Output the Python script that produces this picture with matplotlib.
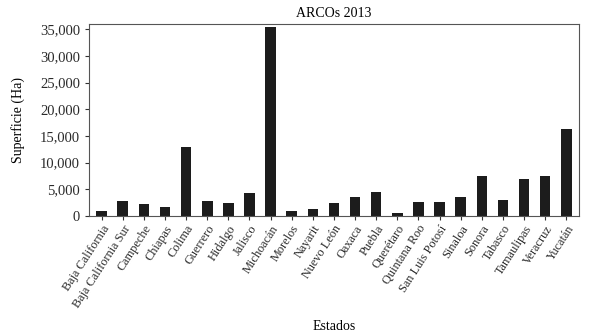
import matplotlib.pyplot as plt
import numpy as np
from matplotlib.ticker import FuncFormatter

estados = ['Baja California', 'Baja California Sur', 'Campeche', 'Chiapas',
           'Colima', 'Guerrero', 'Hidalgo', 'Jalisco', 'Michoacán', 'Morelos',
           'Nayarit', 'Nuevo León', 'Oaxaca', 'Puebla', 'Querétaro',
           'Quintana Roo', 'San Luis Potosí', 'Sinaloa', 'Sonora', 'Tabasco',
           'Tamaulipas', 'Veracruz', 'Yucatán']
superficie = [900, 2800, 2200, 1700, 12900, 2800, 2500, 4400, 35400, 900,
              1400, 2500, 3500, 4450, 500, 2550, 2700, 3630, 7500, 3000,
              6880, 7500, 16300]
yticks = [0, 5000, 10000, 15000, 20000, 25000, 30000, 35000]


def main():
    plt.rcParams['font.family'] = ['Liberation Serif', 'DejaVu Serif']
    plt.rcParams['font.size'] = 10

    fig = plt.figure(figsize=(5.89, 3.36), dpi=100)
    ax = fig.add_axes([0.151, 0.357, 0.832, 0.572])

    x = np.arange(len(estados))
    ax.bar(x, superficie, width=0.5, color='#1c1c1c')

    ax.set_xlim(-0.6, len(estados) - 0.4)
    ax.set_ylim(0, 36000)
    ax.set_yticks(yticks)
    ax.yaxis.set_major_formatter(FuncFormatter(lambda v, p: '{:,.0f}'.format(v)))
    ax.set_xticks(x)
    ax.set_xticklabels(estados, rotation=57, ha='right', rotation_mode='anchor',
                       fontsize=8.8)

    for s in ax.spines.values():
        s.set_color('#555555')
        s.set_linewidth(0.8)
    ax.tick_params(colors='#333333', length=3, width=0.8, labelcolor='#2a2a2a')
    ax.tick_params(axis='x', pad=2)
    ax.tick_params(axis='y', labelsize=10.5)

    ax.set_title('ARCOs 2013', fontsize=10, pad=5)
    ax.set_ylabel('Superficie (Ha)', fontsize=10, labelpad=11)
    ax.set_xlabel('Estados', fontsize=10)
    ax.xaxis.set_label_coords(0.5, -0.54)

    fig.savefig('out.png', dpi=100)


if __name__ == '__main__':
    main()
